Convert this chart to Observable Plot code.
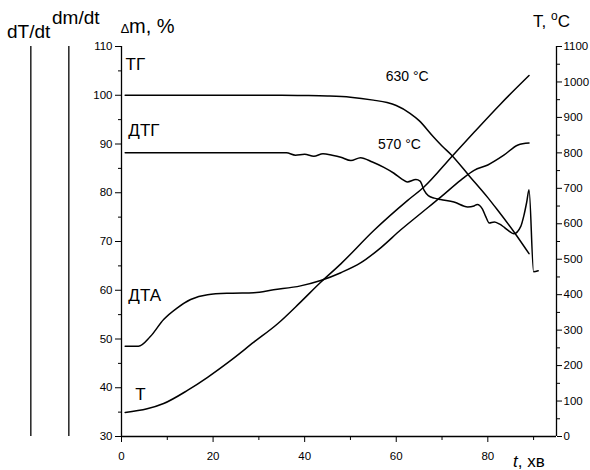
<!DOCTYPE html>
<html><head><meta charset="utf-8">
<script src="https://cdn.jsdelivr.net/npm/d3@7"></script>
<script src="https://cdn.jsdelivr.net/npm/@observablehq/plot@0.6"></script>
<style>body{margin:0;background:#fff}</style>
</head><body><div id="chart"></div>
<script>
// time, minutes
const tgTime = [0.8,10,20,30,35,40,45,50,55,58,60,63,65,68,70,72,76,80,82,86,89];
const tgMass = [100,100,100,100,100,99.95,99.85,99.6,99.0,98.5,97.9,96.3,94.8,91.6,89.6,87.8,83.4,79,76.6,71.6,67.5];

const dtgTime = [0.8,36,38,40,42,44,46,47.9,50.1,52.2,54.8,57.3,59.5,61.4,62.4,64.3,65.2,66.1,67.0,68.3,69.7,72.6,75.6,77.0,77.7,78.8,79.6,80.3,81.4,82.5,83.6,84.7,85.7,87.2,87.9,88.5,89.0,90.0,91.0];
const dtgVal  = [88.2,88.2,87.7,87.9,87.5,88.0,87.7,87.3,86.6,87.2,86.3,85.2,84.0,82.7,82.2,82.7,82.4,80.5,79.4,78.9,78.6,78.1,77.1,77.3,77.6,76.7,75.0,73.8,74.0,73.6,72.9,72.1,71.6,73.1,75.4,78.1,80.6,63.8,64.0];

const dtaTime = [0.8,3.7,6.3,9.2,12.2,15.1,18.8,23.8,28.9,33.2,39.1,43.5,47.9,52.2,56.6,61,65.4,69.7,74.1,77,80,83.5,86.6,89];
const dtaVal  = [48.5,48.5,50.5,54,56.4,58.1,59.1,59.4,59.5,60.1,60.9,62,63.6,65.6,68.7,72.4,75.8,79.1,82.6,84.6,85.7,87.7,89.8,90.2];

const tempTime = [0.8,5.6,9.2,14.4,18.8,23.8,28.9,34.1,39.1,43.5,47.9,55.1,62.5,66,72.3,77,82.8,89];
const tempC    = [68,78,93,130,167,214,266,318,379,435,487,581,666,703,792,858,938,1018];

const xTicks = [0,20,40,60,80];
const xMinor = [10,30,50,70,90];
const massTicks = [30,40,50,60,70,80,90,100,110];
const massMinor = [35,45,55,65,75,85,95,105];
const tempTicks = [0,100,200,300,400,500,600,700,800,900,1000,1100];
const tempMinor = [50,150,250,350,450,550,650,750,850,950,1050];

const curveLabels = [
  {t:0.9, v:106.4, text:"ТГ"},
  {t:1.5, v:92.8, text:"ДТГ"},
  {t:1.5, v:59.0, text:"ДТА"},
  {t:3.0, v:38.6, text:"Т"}
];
const tempLabels = [
  {t:57.7, v:103.9, text:"630 °C"},
  {t:56.0, v:89.8, text:"570 °C"}
];
const extraAxes = [-19.8, -11.5];

const toLeft = T => 30 + T * 80 / 1100;
const rows = (name, ts, vs) => ts.map((t, i) => ({series: name, t, v: vs[i]}));
const data = [
  ...rows("ТГ", tgTime, tgMass),
  ...rows("ДТГ", dtgTime, dtgVal),
  ...rows("ДТА", dtaTime, dtaVal),
  ...rows("Т", tempTime, tempC.map(toLeft))
];

const font = "Liberation Sans, Arial, sans-serif";
const plot = Plot.plot({
  width: 590, height: 470,
  marginLeft: 121, marginRight: 34, marginTop: 46, marginBottom: 34,
  style: {fontFamily: font, background: "white", color: "black"},
  x: {domain: [0, 95]},
  y: {domain: [30, 110]},
  marks: [
    Plot.ruleX([0, 95], {stroke: "black", strokeWidth: 1.3}),
    Plot.ruleY([30], {stroke: "black", strokeWidth: 1.3}),
    Plot.ruleX(extraAxes, {y1: 30, y2: 110, stroke: "black", strokeWidth: 1.3}),
    Plot.axisX({ticks: xTicks, tickSize: 6, tickPadding: 9, fontSize: 11.5, label: null}),
    Plot.axisX({ticks: xMinor, tickSize: 4, text: null, label: null}),
    Plot.axisY({ticks: massTicks, tickSize: 6, tickPadding: 3, fontSize: 11.5, label: null}),
    Plot.axisY({ticks: massMinor, tickSize: 3, text: null, label: null}),
    Plot.axisY({anchor: "right", ticks: tempTicks.map(toLeft), tickSize: 5, tickPadding: 2, fontSize: 11.5, label: null,
      tickFormat: v => String(Math.round((v - 30) * 1100 / 80))}),
    Plot.axisY({anchor: "right", ticks: tempMinor.map(toLeft), tickSize: 3, text: null, label: null}),
    Plot.line(data, {x: "t", y: "v", z: "series", stroke: "black", strokeWidth: 1.5, curve: "monotone-x"}),
    Plot.text(curveLabels, {x: "t", y: "v", text: "text", textAnchor: "start", fontSize: 17}),
    Plot.text(tempLabels, {x: "t", y: "v", text: "text", textAnchor: "start", fontSize: 14})
  ]
});
document.getElementById("chart").appendChild(plot);

// axis titles
const svg = d3.select(plot);
const g = svg.append("g").attr("font-family", font).attr("fill", "black").attr("text-anchor", "start");
g.append("text").attr("x", 7).attr("y", 38).attr("font-size", 19).text("dT/dt");
g.append("text").attr("x", 52).attr("y", 24).attr("font-size", 19).text("dm/dt");
const dm = g.append("text").attr("x", 121).attr("y", 33).attr("font-size", 20);
dm.append("tspan").attr("font-size", 13).text("∆");
dm.append("tspan").text("m, %");
const tc = g.append("text").attr("x", 533).attr("y", 27).attr("font-size", 17);
tc.append("tspan").text("T, ");
tc.append("tspan").attr("font-size", 12).attr("dy", -7).text("o");
tc.append("tspan").attr("dy", 7).text("C");
const tx = g.append("text").attr("x", 513).attr("y", 467).attr("font-size", 17);
tx.append("tspan").attr("font-style", "italic").text("t");
tx.append("tspan").text(", хв");
</script>
</body></html>
